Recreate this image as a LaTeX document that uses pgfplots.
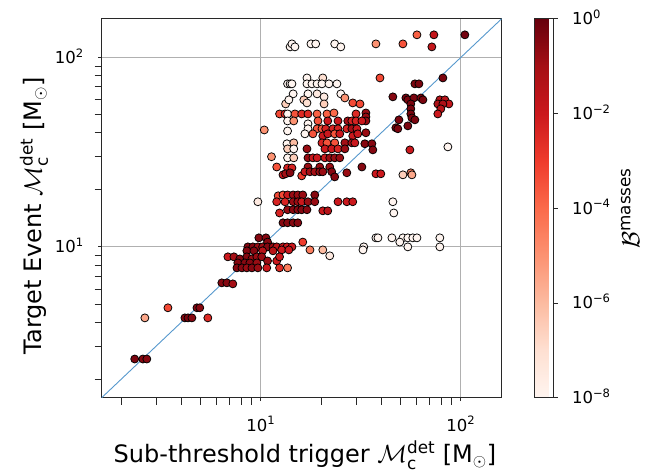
\documentclass[border=0pt]{standalone}
\usepackage{fontspec}
\setmainfont{DejaVu Sans}
\usepackage{amsmath}
\usepackage{pgfplots}
\pgfplotsset{compat=1.18}
\pgfplotsset{
  colormap={mplreds}{rgb255=(255,245,240) rgb255=(254,224,210) rgb255=(252,187,161)
    rgb255=(252,146,114) rgb255=(251,106,74) rgb255=(239,59,44) rgb255=(203,24,29)
    rgb255=(165,15,21) rgb255=(103,0,13)}
}
\definecolor{diag}{RGB}{86,152,205}
\definecolor{gridc}{RGB}{176,176,176}
\definecolor{framec}{RGB}{40,40,40}

% sub-threshold vs target chirp mass, meta = log10 of B^masses
\pgfplotstableread{
x y c
14.0 113.6 -8
14.3 117.8 -8
14.8 113.6 -8
17.8 117.8 -8
18.8 117.8 -8
23.4 117.8 -8
25.1 113.6 -8
37.6 117.8 -5
51.3 117.8 -3.5
60.3 131.5 -3.8
73.3 131.5 -1.8
71.6 113.6 -1.8
104.7 131.5 -0.2
17.0 77.9 -8
20.4 77.9 -7
39.4 77.9 -3.3
13.6 72.5 -8
14.0 72.5 -8
14.3 72.5 -8
17.0 72.5 -8
18.0 72.5 -8
19.1 72.5 -8
20.2 72.5 -8
21.9 72.5 -8
24.0 72.5 -8
14.5 64.2 -8
17.2 64.2 -8
19.1 64.2 -7.5
20.7 61.9 -7.5
25.1 64.2 -8
26.3 61.1 -5
13.3 56.8 -6.5
13.8 59.7 -8
16.4 59.7 -6.5
17.0 57.5 -7
20.7 56.8 -6.5
28.8 57.5 -3.3
31.3 56.8 -3.3
12.4 50.3 -3.3
13.2 50.3 -2.5
13.6 50.3 -8
14.8 50.3 -3.5
16.0 50.3 -2.5
17.2 50.3 -2.5
19.1 50.3 -3.8
21.4 50.3 -3.8
23.2 50.9 -4
29.9 50.3 -2.5
33.5 50.9 -0.8
33.5 48.5 -0.8
33.5 46.2 -0.8
13.6 46.2 -8
14.6 46.2 -5
17.2 44.6 -8
19.3 46.2 -3.5
21.6 46.2 -2
24.3 46.2 -2
27.2 46.2 -1
28.5 46.2 -2.3
29.9 46.2 -2.3
32.0 46.2 -2
13.6 40.9 -8
10.4 41.4 -5
17.2 42.0 -8
19.1 42.0 -3.5
20.2 42.0 -3.5
21.1 42.0 -2.3
22.9 42.0 -2.3
24.3 42.0 -2.3
26.9 42.0 -2.3
28.5 42.0 -1
30.2 42.0 -2
33.5 40.0 -0.8
16.6 39.5 -8
18.2 39.5 -3.5
20.4 38.5 -2
21.6 39.5 -2
23.4 39.5 -3.5
24.8 39.5 -2
28.8 38.5 -2
30.5 39.5 -2
13.5 35.0 -8
14.6 35.4 -6
20.2 35.4 -2.3
21.4 35.4 -3.5
23.4 35.4 -3.5
26.3 35.4 -1
28.5 35.4 -1
29.5 35.4 -2
33.1 35.0 -0.5
35.9 35.0 -0.5
13.6 32.9 -6.5
14.6 32.9 -8
17.0 32.9 -0.8
20.9 32.9 -2
22.6 32.9 -2
24.3 32.9 -2.3
26.3 32.9 -0.8
36.3 32.5 -0.5
11.3 29.9 -5
13.6 29.5 -8
14.6 29.5 -6.5
17.2 29.5 -0.8
18.2 29.5 -2
19.1 29.5 -2
20.9 29.5 -2
22.1 29.5 -0.8
23.4 29.5 -0.8
24.8 29.5 -0.8
12.0 26.4 -3.5
13.6 26.1 -2.3
14.3 26.1 -2.3
17.2 26.4 -0.8
19.7 26.4 -0.8
22.1 26.4 -0.8
32.0 26.4 -0.5
12.9 24.0 -2
13.3 24.3 -1
14.0 24.6 -0.5
16.0 23.7 -3
16.6 24.9 -2
17.6 24.9 -1
18.6 24.9 -1
19.7 24.9 -0.8
20.4 24.9 -0.8
22.6 24.9 -0.5
23.4 23.4 -0.5
26.9 24.6 -0.8
37.6 24.3 -2
39.8 24.3 -2
81.3 77.9 -0.3
58.9 72.5 -0.3
61.7 72.5 -0.3
45.7 61.9 -0.5
53.1 61.1 -0.3
54.3 59.7 -0.3
58.2 61.1 -0.3
63.1 61.1 -0.3
64.6 59.7 -0.3
56.2 56.8 -0.3
56.2 53.5 -0.3
56.2 50.3 -0.3
56.9 47.9 -0.3
58.9 46.8 -0.3
78.5 59.7 -1.5
83.2 59.7 -1.5
87.1 56.8 -1.8
76.7 56.8 -1.2
81.3 56.8 -1.2
79.4 53.5 -1.5
76.7 50.3 -2
49.0 46.8 -0.3
47.3 42.5 -0.3
48.4 42.0 -0.3
54.3 43.5 -0.3
55.6 32.5 -2
86.1 33.7 -8
51.3 24.0 -6.5
56.2 24.6 -4.5
56.9 24.0 -5.5
12.2 18.6 -3.3
12.9 18.8 -3.3
13.6 18.8 -2
14.5 18.8 -0.8
15.3 18.8 -0.8
16.2 18.8 -0.8
18.6 18.8 -0.5
9.66 17.3 -7.5
12.0 17.3 -2.3
13.2 17.3 -2.3
14.5 17.3 -0.8
15.3 17.3 -0.8
16.0 17.3 -2
17.2 17.3 -0.8
18.6 17.3 -0.8
24.3 17.3 -2
26.9 17.3 -2
28.8 17.3 -2
13.6 15.7 -0.8
14.5 15.7 -0.5
15.3 15.7 -0.5
16.0 15.7 -0.5
17.0 15.7 -0.5
20.4 15.5 -2
21.6 15.5 -1.5
12.4 15.1 -2.3
45.7 17.3 -8
46.2 15.1 -8
12.9 13.4 -0.5
13.6 13.4 -0.5
14.5 13.4 -0.5
15.3 13.4 -0.5
9.77 11.16 -0.5
10.6 11.16 -0.5
10.8 10.6 -0.5
8.61 10.0 -0.5
9.12 10.0 -0.5
9.66 10.0 -0.8
10.2 10.0 -0.8
10.8 10.0 -0.5
11.5 10.0 -0.8
12.0 10.0 -1.5
12.9 10.0 -2
13.5 10.0 -2
14.3 10.0 -2
16.2 10.6 -3
17.6 9.64 -4.5
20.4 9.64 -6
22.1 8.97 -7.5
12.7 9.64 -2
13.8 9.64 -2
8.51 9.53 -0.5
9.23 9.53 -0.5
10.2 9.53 -1.5
11.5 9.53 -1.5
6.84 8.86 -2
7.33 8.86 -1
7.85 8.64 -0.5
8.51 8.86 -0.5
9.02 8.64 -0.8
9.55 8.86 -0.8
10.1 8.86 -0.8
10.8 8.43 -0.8
12.0 8.43 -2
12.4 8.86 -2
7.67 8.23 -0.5
8.32 8.23 -0.5
8.81 8.23 -0.5
9.55 8.23 -0.8
7.59 7.75 -0.5
8.04 7.75 -0.5
8.51 7.75 -0.8
9.02 7.75 -0.5
9.66 7.75 -0.8
10.7 7.75 -2
12.4 7.75 -2.5
13.6 7.75 -4.5
37.6 11.16 -8
38.5 11.16 -8
45.2 11.16 -8
51.3 11.16 -8
54.3 11.16 -8
57.5 11.16 -8
60.3 11.16 -8
49.5 10.6 -8
54.3 10.0 -8
78.5 11.16 -8
78.5 10.0 -8
32.7 10.0 -8
32.4 9.64 -8
6.38 6.46 -0.5
6.76 6.46 -0.5
7.24 6.38 -1
3.43 4.77 -3.3
2.63 4.22 -5.5
4.79 4.77 -0.5
4.95 4.77 -0.5
4.17 4.22 -0.5
4.32 4.22 -0.3
4.52 4.22 -0.5
5.43 4.22 -2.5
2.34 2.56 -0.3
2.57 2.56 -0.5
2.69 2.56 -0.5
}\masses

\begin{document}
\begin{tikzpicture}
\path[use as bounding box] (-101.7bp,-76.3bp) rectangle (560.3bp,397.7bp);
\begin{axis}[
  at={(0,0)}, anchor=south west,
  scale only axis, width=400bp, height=379bp,
  xmode=log, ymode=log,
  xmin=1.6, xmax=160, ymin=1.6, ymax=160,
  xtick={10,100}, ytick={10,100},
  xticklabels={10\textsuperscript{1},10\textsuperscript{2}},
  yticklabels={10\textsuperscript{1},10\textsuperscript{2}},
  minor xtick={2,3,4,5,6,7,8,9,20,30,40,50,60,70,80,90},
  minor ytick={2,3,4,5,6,7,8,9,20,30,40,50,60,70,80,90},
  tick pos=left, tick align=outside,
  major tick length=3.5bp, minor tick length=7bp,
  every tick/.style={framec, line width=0.8bp},
  axis line style={framec, line width=0.8bp},
  grid=major, major grid style={gridc, line width=0.8bp},
  ticklabel style={font=\fontsize{16.5bp}{19bp}\selectfont},
  xticklabel style={anchor=north, inner sep=0pt, yshift=-15bp},
  yticklabel style={anchor=base east, inner sep=0pt, xshift=-14.4bp, yshift=-6bp},
  label style={font=\fontsize{24bp}{28bp}\selectfont},
  xlabel={Sub-threshold trigger $\mathcal{M}_{\text{c}}^{\text{det}}$ [M$_\odot$]},
  ylabel={Target Event $\mathcal{M}_{\text{c}}^{\text{det}}$ [M$_\odot$]},
  xlabel style={at={(axis description cs:0.508,-0.172)}, anchor=base},
  ylabel style={at={(axis description cs:-0.150,0.48)}, anchor=base},
  colormap name=mplreds,
  point meta min=-8, point meta max=0,
  colorbar,
  colorbar style={
    at={(parent axis.north east)}, anchor=north west, xshift=24bp,
    scale only axis, width=19.3bp, height=379bp,
    ytick={-8,-6,-4,-2,0},
    yticklabels={10\textsuperscript{−8},10\textsuperscript{−6},10\textsuperscript{−4},10\textsuperscript{−2},10\textsuperscript{0}},
    ytick pos=right, tick align=outside, major tick length=4bp,
    every tick/.style={framec, line width=0.8bp},
    axis line style={framec, line width=0.8bp},
    yticklabel style={font=\fontsize{16.5bp}{19bp}\selectfont, anchor=base west, inner sep=0pt, xshift=14.3bp, yshift=-6bp},
    ylabel={$\mathcal{B}^{\text{masses}}$},
    ylabel style={font=\fontsize{24bp}{28bp}\selectfont, at={(axis description cs:5.45,0.5)}, anchor=base, rotate=0},
  },
]
\addplot[diag, line width=0.9bp, forget plot] coordinates {(1.6,1.6) (160,160)};
\addplot[scatter, only marks, mark=*, mark size=4bp,
  point meta=explicit,
  scatter/use mapped color={draw=black, fill=mapped color},
  mark options={line width=0.75bp}]
  table[x=x, y=y, meta=c] {\masses};
\end{axis}
\end{tikzpicture}
\end{document}
